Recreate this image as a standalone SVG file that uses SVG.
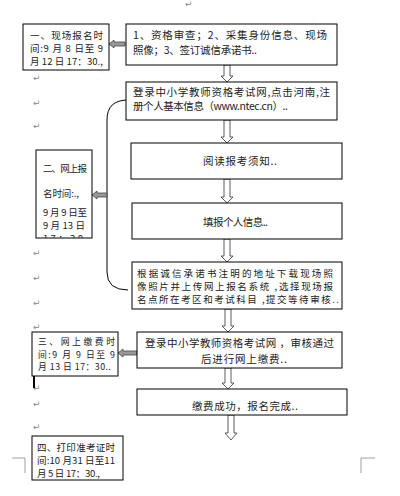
<svg xmlns="http://www.w3.org/2000/svg" width="400" height="496" viewBox="0 0 400 496">
<style>
.box{fill:#fff;stroke:#000;stroke-width:1}
.t{font-family:"Noto Sans CJK SC","Liberation Sans",sans-serif;font-size:10.5px;fill:#222}
.s{font-size:9.5px}
.xs{font-size:8.8px}
.ret{font-family:"DejaVu Sans",sans-serif;font-size:9px;fill:#888}
.down{fill:#fff;stroke:#333;stroke-width:0.8}
.left{fill:#999;stroke:#444;stroke-width:0.8}
.mark{fill:none;stroke:#888;stroke-width:0.8}
</style>
<defs>
<clipPath id="clip2"><rect x="36" y="150" width="56" height="88"/></clipPath>
</defs>
<rect width="400" height="496" fill="#fff"/>

<g id="marks">
<text class="ret" x="185" y="7">↵</text>
<text class="ret" x="33" y="81">↵</text>
<text class="ret" x="33" y="106">↵</text>
<text class="ret" x="33" y="129">↵</text>
<text class="ret" x="33" y="256">↵</text>
<text class="ret" x="33" y="281">↵</text>
<text class="ret" x="33" y="306">↵</text>
<text class="ret" x="33" y="330">↵</text>
<text class="ret" x="33" y="391">↵</text>
<text class="ret" x="33" y="407">↵</text>
<text class="ret" x="33" y="430">↵</text>
<path class="mark" d="M12,458 H25 V473"/>
<path class="mark" d="M375,458 H361 V473"/>
<rect x="33" y="363" width="2" height="25" fill="#000"/>
</g>

<g id="connectors">
<polygon class="left" points="125,42 114,42 114,40 109,44 114,48 114,46 125,46"/>
<polygon class="down" points="224,65 230,65 230,76 233,76 227,82 221,76 224,76"/>
<polygon class="down" points="224,120 230,120 230,137 233,137 227,143 221,137 224,137"/>
<polygon class="down" points="224,179 230,179 230,197 233,197 227,203 221,197 224,197"/>
<polygon class="down" points="224,239 230,239 230,256 233,256 227,262 221,256 224,256"/>
<polygon class="down" points="225,309 231,309 231,326 234,326 228,332 222,326 225,326"/>
<polygon class="down" points="225,368 231,368 231,383 234,383 228,389 222,383 225,383"/>
<polygon class="down" points="228,415 234,415 234,433 237,433 231,440 225,433 228,433"/>
<path d="M128,100 Q107,100 107,120 L107,272 Q107,290 128,290" fill="none" stroke="#000" stroke-width="1"/>
<polygon class="left" points="107,193 97,193 97,191 92,195 97,199 97,197 107,197"/>
<polygon class="left" points="137,351 123,351 123,349 118,353 123,357 123,355 137,355"/>
</g>

<g id="n1">
<rect class="box" x="23" y="24" width="86" height="46"/>
<text class="t s" x="30" y="39" textLength="73" lengthAdjust="spacing">一、现场报名时</text>
<text class="t s" x="30" y="52" textLength="73" lengthAdjust="spacing">间:9 月 8 日至 9</text>
<text class="t s" x="30" y="65" textLength="73" lengthAdjust="spacing">月 12 日 17：30.,</text>
</g>

<g id="nA">
<rect class="box" x="126" y="24" width="211" height="41"/>
<text class="t" x="133" y="39" textLength="194" lengthAdjust="spacing">1、资格审查；2、采集身份信息、现场</text>
<text class="t" x="133" y="54" textLength="124" lengthAdjust="spacing">照像；3、签订诚信承诺书..</text>
</g>

<g id="nB">
<rect class="box" x="126" y="82" width="211" height="38"/>
<text class="t" x="133" y="96" textLength="197" lengthAdjust="spacing">登录中小学教师资格考试网,点击河南,注</text>
<text class="t" x="133" y="110" textLength="155" lengthAdjust="spacing">册个人基本信息（www.ntec.cn）..</text>
</g>

<g id="nC">
<rect class="box" x="131" y="143" width="211" height="36"/>
<text class="t" x="203" y="165" textLength="74" lengthAdjust="spacing">阅读报考须知..</text>
</g>

<g id="nD">
<rect class="box" x="132" y="203" width="210" height="36"/>
<text class="t" x="203" y="226" textLength="65" lengthAdjust="spacing">填报个人信息..</text>
</g>

<g id="nE">
<rect class="box" x="132" y="262" width="210" height="47"/>
<text class="t s" x="137" y="277" textLength="196" lengthAdjust="spacing">根据诚信承诺书注明的地址下载现场照</text>
<text class="t s" x="137" y="290" textLength="196" lengthAdjust="spacing">像照片并上传网上报名系统 ,选择现场报</text>
<text class="t s" x="137" y="303" textLength="202" lengthAdjust="spacing">名点所在考区和考试科目 ,提交等待审核..</text>
</g>

<g id="n2">
<rect class="box" x="36" y="150" width="56" height="88"/>
<g clip-path="url(#clip2)">
<text class="t s" x="43" y="172" textLength="44" lengthAdjust="spacing">二、网上报</text>
<text class="t s" x="43" y="197" textLength="36" lengthAdjust="spacing">名时间:.,</text>
<text class="t s" x="43" y="216" textLength="44" lengthAdjust="spacing">9 月 9 日至</text>
<text class="t s" x="43" y="229" textLength="42" lengthAdjust="spacing">9 月 13 日</text>
<text class="t s" x="43" y="242" textLength="40" lengthAdjust="spacing">17：30</text>
</g>
</g>

<g id="nF">
<rect class="box" x="137" y="332" width="205" height="36"/>
<text class="t" x="145" y="347" textLength="189" lengthAdjust="spacing">登录中小学教师资格考试网 ，审核通过</text>
<text class="t" x="201" y="363" textLength="86" lengthAdjust="spacing">后进行网上缴费..</text>
</g>

<g id="n3">
<rect class="box" x="32" y="332" width="86" height="44"/>
<text class="t xs" x="38" y="345" textLength="77" lengthAdjust="spacing">三、网上缴费时</text>
<text class="t xs" x="38" y="357.5" textLength="77" lengthAdjust="spacing">间:9 月 9 日至 9</text>
<text class="t xs" x="38" y="370" textLength="73" lengthAdjust="spacing">月 13 日 17：30..</text>
</g>

<g id="nG">
<rect class="box" x="137" y="389" width="210" height="26"/>
<text class="t" x="192" y="410" textLength="106" lengthAdjust="spacing">缴费成功，报名完成..</text>
</g>

<g id="n4">
<rect class="box" x="32" y="436" width="91" height="44"/>
<text class="t s" x="37" y="451" textLength="78" lengthAdjust="spacing">四、打印准考证时</text>
<text class="t s" x="37" y="464" textLength="78" lengthAdjust="spacing">间:10 月31 日至11</text>
<text class="t s" x="37" y="477" textLength="63" lengthAdjust="spacing">月 5 日 17：30.,</text>
</g>
</svg>
